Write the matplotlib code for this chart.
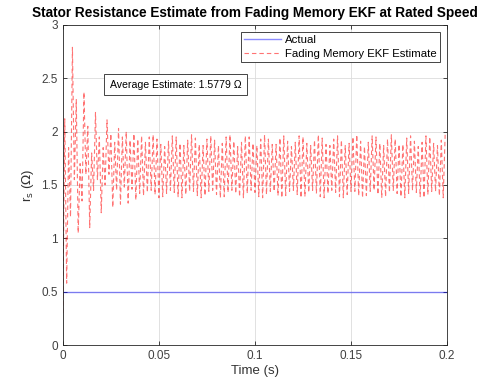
import matplotlib.pyplot as plt
import numpy as np

plt.rcParams['font.family'] = ['Liberation Sans', 'DejaVu Sans']

# half-cycle spacing of the estimate's oscillation (s)
half_step = 0.001
t_end = 0.2

# trough values (one per cycle, at t = 2k*half_step)
troughs = [0.30, 0.58, 1.20, 1.55, 1.05, 1.35, 1.60, 1.10, 1.45, 1.55,
           1.24, 1.50, 1.60, 1.29, 1.45, 1.32, 1.48, 1.33, 1.46, 1.36,
           1.42,
           1.40, 1.43, 1.45, 1.41, 1.38, 1.39, 1.42, 1.45, 1.43, 1.39,
           1.38, 1.41, 1.44, 1.44, 1.40, 1.38, 1.40, 1.44, 1.45, 1.41,
           1.38, 1.39, 1.43, 1.45, 1.42, 1.39, 1.38, 1.42, 1.45, 1.43,
           1.39, 1.38, 1.41, 1.44, 1.44, 1.40, 1.38, 1.40, 1.44, 1.45,
           1.41, 1.38, 1.39, 1.43, 1.45, 1.42, 1.39, 1.38, 1.42, 1.45,
           1.43, 1.39, 1.38, 1.41, 1.44, 1.44, 1.40, 1.38, 1.40, 1.44,
           1.45, 1.41, 1.38, 1.39, 1.43, 1.45, 1.42, 1.39, 1.38, 1.42,
           1.45, 1.43, 1.39, 1.38, 1.41, 1.44, 1.44, 1.40, 1.38]

# peak values (one per cycle, at t = (2k+1)*half_step)
peaks = [2.12, 1.85, 2.79, 2.30, 1.70, 2.37, 2.05, 1.80, 2.18, 1.95,
         1.85, 2.11, 1.98, 1.90, 2.03, 1.95, 2.00, 1.92, 1.98, 1.93,
         1.96,
         1.90, 1.95, 1.97, 1.93, 1.88, 1.86, 1.91, 1.96, 1.95, 1.89,
         1.87, 1.92, 1.97, 1.94, 1.88, 1.87, 1.93, 1.96, 1.92, 1.87,
         1.89, 1.95, 1.97, 1.91, 1.86, 1.90, 1.96, 1.95, 1.89, 1.87,
         1.93, 1.97, 1.93, 1.88, 1.88, 1.94, 1.96, 1.91, 1.86, 1.90,
         1.96, 1.95, 1.89, 1.87, 1.92, 1.97, 1.94, 1.88, 1.87, 1.93,
         1.96, 1.92, 1.87, 1.89, 1.95, 1.97, 1.91, 1.86, 1.90, 1.96,
         1.95, 1.89, 1.87, 1.93, 1.97, 1.93, 1.88, 1.88, 1.94, 1.96,
         1.91, 1.86, 1.90, 1.96, 1.95, 1.89, 1.87, 1.92, 1.97]

rs_actual = 0.5
avg_text = 'Average Estimate: 1.5779 \u03a9'

# interleave troughs and peaks into one series
rs_est = np.empty(len(troughs) + len(peaks))
rs_est[0::2] = troughs
rs_est[1::2] = peaks
t_est = np.arange(len(rs_est)) * half_step

fig = plt.figure(figsize=(4.87, 3.89), dpi=100)
ax = fig.add_axes([0.129, 0.113, 0.789, 0.823])

ax.plot([0, t_end], [rs_actual, rs_actual], color=(0, 0, 1), alpha=0.45,
        lw=1.0, label='Actual')
ax.plot(t_est, rs_est, color=(1, 0, 0), alpha=0.55, lw=0.8,
        linestyle=(0, (4, 2.7)), label='Fading Memory EKF Estimate')

ax.set_xlim(0, t_end)
ax.set_ylim(0, 3)
ax.set_xticks([0, 0.05, 0.1, 0.15, 0.2])
ax.set_xticklabels(['0', '0.05', '0.1', '0.15', '0.2'])
ax.set_yticks([0, 0.5, 1, 1.5, 2, 2.5, 3])
ax.set_yticklabels(['0', '0.5', '1', '1.5', '2', '2.5', '3'])

ax.grid(True, color='#dcdcdc', lw=0.6)
ax.set_axisbelow(True)
for sp in ax.spines.values():
    sp.set_color('#262626')
    sp.set_linewidth(0.6)
ax.tick_params(direction='in', length=3, width=0.6, colors='#262626',
               labelsize=8.5, top=True, right=True)
ax.tick_params(labelcolor='#404040')

ax.set_title('Stator Resistance Estimate from Fading Memory EKF at Rated Speed',
             fontsize=9.8, fontweight='bold', pad=6)
ax.set_xlabel('Time (s)', fontsize=9.5, color='#333333', labelpad=2)
ax.set_ylabel(r'r$_\mathrm{s}$ ($\Omega$)', fontsize=9.5, color='#333333',
              labelpad=4)

leg = ax.legend(loc='upper right', fontsize=8.2, frameon=True, fancybox=False,
                edgecolor='#262626', framealpha=1, borderpad=0.3,
                labelspacing=0.3, handlelength=3.2, handletextpad=0.4,
                borderaxespad=0.6)
leg.get_frame().set_linewidth(0.6)

ax.text(0.0245, 2.44, avg_text, fontsize=7.6, va='center', ha='left',
        bbox=dict(boxstyle='square,pad=0.55', fc='white', ec='#262626', lw=0.6))

fig.savefig('out.png', dpi=100)
